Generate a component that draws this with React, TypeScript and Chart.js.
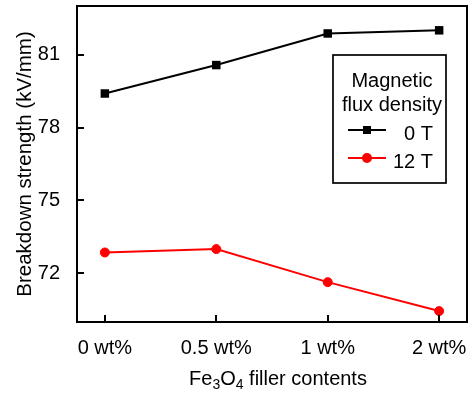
import { useEffect, useRef } from "react";
import { Chart, registerables } from "chart.js";

Chart.register(...registerables);

const fillerContents = ["0 wt%", "0.5 wt%", "1 wt%", "2 wt%"];
const strength0T = [79.4, 80.57, 81.87, 82.0];
const strength12T = [72.86, 73.0, 71.64, 70.45];
const yTickValues = [72, 75, 78, 81];
const legendTitle = ["Magnetic", "flux density"];
const seriesLabels = ["0 T", "12 T"];
const yAxisTitle = "Breakdown strength (kV/mm)";

const FONT = "'Liberation Sans', Arial, sans-serif";

// Closed frame around the plot area plus inward tick marks on the left and bottom axes.
const framePlugin = {
  id: "frame",
  afterDatasetsDraw(chart: any) {
    const { ctx, chartArea: a, scales } = chart;
    ctx.save();
    ctx.strokeStyle = "#000";
    ctx.lineWidth = 2;
    ctx.strokeRect(a.left, a.top, a.right - a.left, a.bottom - a.top);
    ctx.beginPath();
    scales.x.ticks.forEach((t: any) => {
      const px = Math.round(scales.x.getPixelForValue(t.value));
      ctx.moveTo(px, a.bottom);
      ctx.lineTo(px, a.bottom - 7);
    });
    scales.y.ticks.forEach((t: any) => {
      const py = Math.round(scales.y.getPixelForValue(t.value));
      ctx.moveTo(a.left, py);
      ctx.lineTo(a.left + 7, py);
    });
    ctx.stroke();
    ctx.restore();
  },
};

// Boxed legend with a two-line heading, anchored to the upper right of the plot area.
const legendBoxPlugin = {
  id: "legendBox",
  afterDatasetsDraw(chart: any) {
    const { ctx, chartArea: a } = chart;
    const left = a.right - 134;
    const top = a.top + 49;
    const w = 113;
    const h = 128;
    ctx.save();
    ctx.fillStyle = "#fff";
    ctx.fillRect(left, top, w, h);
    ctx.strokeStyle = "#000";
    ctx.lineWidth = 1.7;
    ctx.strokeRect(left, top, w, h);

    ctx.font = `20px ${FONT}`;
    ctx.fillStyle = "#000";
    ctx.textAlign = "center";
    ctx.textBaseline = "alphabetic";
    const cx = left + 59;
    ctx.fillText(legendTitle[0], cx, top + 32);
    ctx.fillText(legendTitle[1], cx, top + 56);

    const rows = [top + 75, top + 103];
    chart.data.datasets.forEach((ds: any, i: number) => {
      const y = rows[i];
      const x0 = left + 15;
      const x1 = left + 53;
      const xm = (x0 + x1) / 2;
      ctx.strokeStyle = ds.borderColor;
      ctx.lineWidth = 2;
      ctx.beginPath();
      ctx.moveTo(x0, y);
      ctx.lineTo(x1, y);
      ctx.stroke();
      ctx.fillStyle = ds.pointBackgroundColor;
      if (ds.pointStyle === "rect") {
        ctx.fillRect(xm - 4, y - 4, 8, 8);
      } else {
        ctx.beginPath();
        ctx.arc(xm, y, 5, 0, Math.PI * 2);
        ctx.fill();
      }
      ctx.fillStyle = "#000";
      ctx.textAlign = "right";
      ctx.fillText(seriesLabels[i], left + 100, y + 10);
    });
    ctx.restore();
  },
};

// Horizontal axis title with chemical subscripts.
const xTitlePlugin = {
  id: "xTitle",
  afterDraw(chart: any) {
    const { ctx, chartArea: a } = chart;
    const parts: [string, boolean][] = [
      ["Fe", false],
      ["3", true],
      ["O", false],
      ["4", true],
      [" filler contents", false],
    ];
    const main = `20px ${FONT}`;
    const sub = `14px ${FONT}`;
    ctx.save();
    let total = 0;
    parts.forEach(([t, s]) => {
      ctx.font = s ? sub : main;
      total += ctx.measureText(t).width;
    });
    let x = (a.left + a.right) / 2 + 6 - total / 2;
    const base = a.bottom + 63;
    ctx.fillStyle = "#000";
    ctx.textAlign = "left";
    ctx.textBaseline = "alphabetic";
    parts.forEach(([t, s]) => {
      ctx.font = s ? sub : main;
      ctx.fillText(t, x, s ? base + 4 : base);
      x += ctx.measureText(t).width;
    });
    ctx.restore();
  },
};

const clearScalePadding = (scale: any) => {
  scale.paddingTop = 0;
  scale.paddingBottom = 0;
  scale.paddingLeft = 0;
  scale.paddingRight = 0;
};

export default function App() {
  const canvasRef = useRef<HTMLCanvasElement | null>(null);

  useEffect(() => {
    if (!canvasRef.current) return;
    const chart = new Chart(canvasRef.current, {
      type: "line",
      data: {
        datasets: [
          {
            label: seriesLabels[0],
            data: strength0T.map((v, i) => ({ x: i, y: v })),
            borderColor: "#000",
            backgroundColor: "#000",
            pointBackgroundColor: "#000",
            pointBorderColor: "#000",
            pointStyle: "rect",
            pointRadius: 6,
            pointBorderWidth: 0,
            borderWidth: 2,
          },
          {
            label: seriesLabels[1],
            data: strength12T.map((v, i) => ({ x: i, y: v })),
            borderColor: "#ff0000",
            backgroundColor: "#ff0000",
            pointBackgroundColor: "#ff0000",
            pointBorderColor: "#ff0000",
            pointStyle: "circle",
            pointRadius: 4.5,
            pointBorderWidth: 1,
            borderWidth: 2,
          },
        ],
      },
      options: {
        responsive: false,
        animation: false,
        layout: { padding: { left: 0, top: 6, right: 9, bottom: 0 } },
        plugins: {
          legend: { display: false },
          tooltip: { enabled: false },
        },
        scales: {
          x: {
            type: "linear",
            min: -0.25,
            max: 3.25,
            grid: { display: false },
            border: { display: false },
            afterBuildTicks: (scale: any) => {
              scale.ticks = fillerContents.map((_, i) => ({ value: i }));
            },
            afterFit: (scale: any) => {
              scale.height = 71;
              clearScalePadding(scale);
            },
            ticks: {
              color: "#000",
              font: { family: FONT, size: 20 },
              padding: 6,
              maxRotation: 0,
              autoSkip: false,
              callback: (v: any) => fillerContents[v] ?? "",
            },
          },
          y: {
            min: 70,
            max: 83,
            grid: { display: false },
            border: { display: false },
            afterBuildTicks: (scale: any) => {
              scale.ticks = yTickValues.map((v) => ({ value: v }));
            },
            afterFit: (scale: any) => {
              scale.width = 77;
              clearScalePadding(scale);
            },
            ticks: {
              color: "#000",
              font: { family: FONT, size: 20 },
              padding: 9,
            },
            title: {
              display: true,
              text: yAxisTitle,
              color: "#000",
              font: { family: FONT, size: 20.5 },
              padding: { top: 13, bottom: 0 },
            },
          },
        },
      },
      plugins: [framePlugin, legendBoxPlugin, xTitlePlugin],
    } as any);
    return () => chart.destroy();
  }, []);

  return (
    <div style={{ position: "fixed", left: 0, top: 0, width: 476, height: 393, background: "#fff" }}>
      <canvas ref={canvasRef} width={476} height={393} />
    </div>
  );
}
